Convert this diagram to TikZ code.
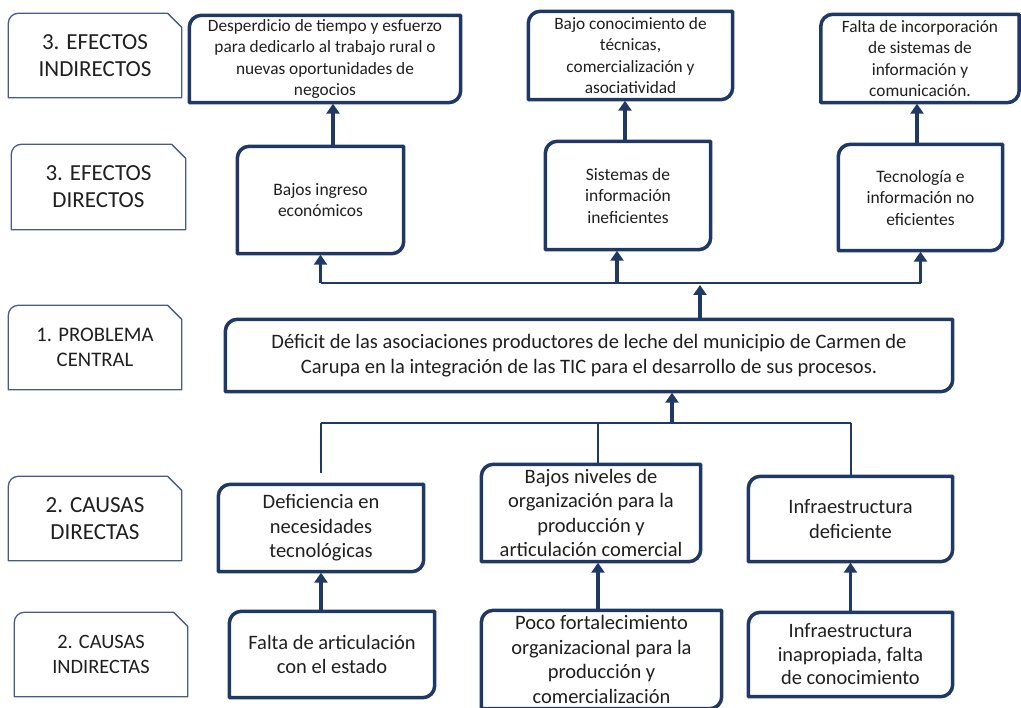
\documentclass[tikz,border=0pt]{standalone}
\usepackage{fontspec}
\setmainfont{Carlito}
\usetikzlibrary{arrows.meta,positioning,calc}
\definecolor{navy}{RGB}{31,56,100}
\definecolor{labelblue}{RGB}{70,92,135}
\tikzstyle{box}=[draw=none,inner sep=0pt,align=center,text=black!88]
\tikzstyle{level}=[box,font=\fontsize{23}{27}\selectfont]
\tikzstyle{effect}=[box,font=\fontsize{17.3}{21.5}\selectfont]
\tikzstyle{direct}=[box,font=\fontsize{17.5}{21.5}\selectfont]
\tikzstyle{cause}=[box,font=\fontsize{20.5}{24.5}\selectfont]
\tikzstyle{outline}=[line width=3.5pt,draw=navy,line join=round]
\tikzstyle{labelline}=[line width=1.3pt,draw=labelblue,line join=round]
\tikzstyle{arrow}=[line width=3.6pt,draw=navy,-{Triangle[length=10pt,width=13pt]},shorten >=1pt]
\tikzstyle{bus}=[line width=2pt,draw=navy]

\begin{document}
\begin{tikzpicture}[x=1pt,y=1pt]
    \useasboundingbox (0,0) rectangle (1021,-708);

    % level labels
    \node[level] (l1) at (95,-55.5) [minimum width=173pt,minimum height=84pt] {3. EFECTOS\\INDIRECTOS};
    \node[level] (l2) at (98.5,-187) [minimum width=174pt,minimum height=85pt] {3. EFECTOS\\DIRECTOS};
    \node[level] (l3) at (95,-347.5) [minimum width=173pt,minimum height=84pt,font=\fontsize{20.7}{24.5}\selectfont] {1. PROBLEMA\\CENTRAL};
    \node[level] (l4) at (95,-518.5) [minimum width=173pt,minimum height=84pt] {2. CAUSAS\\DIRECTAS};
    \node[level] (l5) at (101,-654.5) [minimum width=173pt,minimum height=84pt,font=\fontsize{20.4}{25}\selectfont] {2. CAUSAS\\INDIRECTAS};

    % efectos indirectos
    \node[effect] (ei1) at (325,-59) [minimum width=271pt,minimum height=87pt] {Desperdicio de tiempo y esfuerzo\\para dedicarlo al trabajo rural o\\nuevas oportunidades de\\negocios};
    \node[effect] (ei2) at (630.5,-55.5) [minimum width=204pt,minimum height=88pt] {Bajo conocimiento de\\técnicas,\\comercialización y\\asociatividad};
    \node[effect] (ei3) at (920,-58.5) [minimum width=198pt,minimum height=88pt] {Falta de incorporación\\de sistemas de\\información y\\comunicación.};

    % efectos directos
    \node[direct] (ed1) at (320.5,-200) [minimum width=166pt,minimum height=107pt] {Bajos ingreso\\económicos};
    \node[direct] (ed2) at (628,-195.5) [minimum width=165pt,minimum height=108pt] {Sistemas de\\información\\ineficientes};
    \node[direct] (ed3) at (920.5,-197.5) [minimum width=164pt,minimum height=106pt] {Tecnología e\\información no\\eficientes};

    % problema central
    \node[cause] (pc) at (589,-355.5) [minimum width=727pt,minimum height=72pt] {Déficit de las asociaciones productores de leche del municipio de Carmen de\\Carupa en la integración de las TIC para el desarrollo de sus procesos.};

    % causas directas
    \node[cause] (cd1) at (321,-528) [minimum width=205pt,minimum height=87pt] {Deficiencia en\\necesidades\\tecnológicas};
    \node[cause] (cd2) at (591,-513) [minimum width=219pt,minimum height=97pt] {Bajos niveles de\\organización para la\\producción y\\articulación comercial};
    \node[cause] (cd3) at (850.5,-519) [minimum width=204pt,minimum height=85pt] {Infraestructura\\deficiente};

    % causas indirectas
    \node[cause] (ci1) at (332,-654.5) [minimum width=205pt,minimum height=86pt] {Falta de articulación\\con el estado};
    \node[cause] (ci2) at (601.5,-661.5) [minimum width=240pt,minimum height=98pt,yshift=2pt] {Poco fortalecimiento\\organizacional para la\\producción y\\comercialización};
    \node[cause] (ci3) at (850.5,-654.5) [minimum width=204pt,minimum height=84pt,font=\fontsize{20.4}{23.5}\selectfont] {Infraestructura\\inapropiada, falta\\de conocimiento};

    % outlines
    \foreach \n in {ei1,ei2,ei3,ed1,ed2,ed3,pc,cd1,cd2,cd3,ci1,ci2,ci3}
        \draw[outline] (\n.south west) -- ([yshift=-12pt]\n.north west) arc[start angle=180,end angle=90,radius=12pt]
            -- (\n.north east) -- ([yshift=12pt]\n.south east) arc[start angle=0,end angle=-90,radius=12pt] -- cycle;
    \foreach \n in {l1,l2,l3,l4,l5}
        \draw[labelline] (\n.south west) -- ([yshift=-10pt]\n.north west) arc[start angle=180,end angle=90,radius=10pt]
            -- ([xshift=-14pt]\n.north east) -- ([yshift=-14pt]\n.north east) -- (\n.south east) -- cycle;

    % bus junctions
    \coordinate (eb1) at (320.5,-283);
    \coordinate (eb2) at (617,-283);
    \coordinate (eb3) at (920.5,-283);
    \coordinate (ebm) at (700,-283);
    \coordinate (cb1) at (321,-423);
    \coordinate (cb2) at (598,-423);
    \coordinate (cb3) at (850.5,-423);
    \coordinate (cbm) at (672,-423);

    % effects
    \draw[bus] (eb1) -- (eb3);
    \draw[arrow] (eb1) -- (eb1 |- ed1.south);
    \draw[arrow] (eb2) -- (eb2 |- ed2.south);
    \draw[arrow] (eb3) -- (eb3 |- ed3.south);
    \draw[arrow] (pc.north -| ebm) -- ([yshift=-1pt]ebm);
    \draw[arrow] ($(ed1.north)+(12.5,0)$) -- ($(ei1.south)+(8,0)$);
    \draw[arrow] ($(ed2.north)+(-3,0)$) -- ($(ei2.south)+(-5.5,0)$);
    \draw[arrow] ($(ed3.north)+(-3.5,0)$) -- ($(ei3.south)+(-3,0)$);

    % causes
    \draw[bus] (cb1) -- (cb3);
    \draw[bus] (cb1) -- ++(0,-50);
    \draw[bus] (cb2) -- (cb2 |- cd2.north);
    \draw[bus] (cb3) -- (cb3 |- cd3.north);
    \draw[arrow] (cbm) -- (cbm |- pc.south);
    \draw[arrow] ($(ci1.north)+(-11,0)$) -- (cd1.south);
    \draw[arrow] ($(ci2.north)+(-3.5,0)$) -- ($(cd2.south)+(7,0)$);
    \draw[arrow] (ci3.north) -- (cd3.south);
\end{tikzpicture}
\end{document}
